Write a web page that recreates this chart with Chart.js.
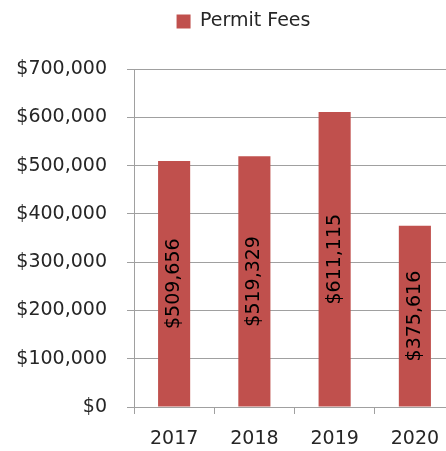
<!DOCTYPE html>
<html>
<head>
<meta charset="utf-8">
<script src="https://cdn.jsdelivr.net/npm/chart.js@4/dist/chart.umd.min.js"></script>
<style>
  html, body { margin: 0; padding: 0; background: #fff; overflow: hidden; }
  #wrap { width: 456px; height: 451px; }
</style>
</head>
<body>
<div id="wrap"><canvas id="feesChart"></canvas></div>
<script>
const years = ['2017', '2018', '2019', '2020'];
const permitFees = [509656, 519329, 611115, 375616];
const yTicks = [0, 100000, 200000, 300000, 400000, 500000, 600000, 700000];

const fmtMoney = v => '$' + v.toLocaleString('en-US');

// labels rotated inside the bars
const barLabels = {
  id: 'barLabels',
  afterDatasetsDraw(chart) {
    const ctx = chart.ctx;
    const meta = chart.getDatasetMeta(0);
    ctx.save();
    ctx.font = '19px "DejaVu Sans"';
    ctx.fillStyle = '#000';
    ctx.textAlign = 'center';
    ctx.textBaseline = 'middle';
    meta.data.forEach((bar, i) => {
      const cy = (bar.y + bar.base) / 2;
      ctx.save();
      ctx.translate(bar.x, cy);
      ctx.rotate(-Math.PI / 2);
      ctx.fillText(fmtMoney(permitFees[i]), 0, 0);
      ctx.restore();
    });
    ctx.restore();
  }
};

// extra space under the legend, and shift it a bit to the right
const legendGap = {
  id: 'legendGap',
  beforeUpdate(chart) {
    const lg = chart.legend;
    if (!lg || lg._gapDone) return;
    const fit = lg.fit;
    lg.fit = function () {
      fit.call(this);
      this.height += 28;
    };
    lg._gapDone = true;
  },
  afterLayout(chart) {
    if (chart.legend) chart.legend.left = 32;
  }
};

const ctx = document.getElementById('feesChart').getContext('2d');
new Chart(ctx, {
  type: 'bar',
  data: {
    labels: years,
    datasets: [{
      label: 'Permit Fees',
      data: permitFees,
      backgroundColor: '#C0504D',
      borderWidth: 0,
      barPercentage: 0.8,
      categoryPercentage: 0.5
    }]
  },
  options: {
    responsive: true,
    maintainAspectRatio: false,
    animation: false,
    layout: { padding: { top: 0, right: 1, bottom: 0, left: 0 } },
    plugins: {
      legend: {
        position: 'top',
        labels: {
          boxWidth: 14,
          boxHeight: 14,
          color: '#262626',
          font: { family: 'DejaVu Sans', size: 19 },
          padding: 12
        }
      },
      tooltip: { enabled: false }
    },
    scales: {
      x: {
        afterFit: scale => { scale.height = 44; },
        grid: {
          offset: true,
          drawOnChartArea: false,
          drawTicks: true,
          tickLength: 7,
          color: '#a0a0a0'
        },
        border: { color: '#a0a0a0' },
        ticks: {
          color: '#262626',
          font: { family: 'DejaVu Sans', size: 19 },
          padding: 14
        }
      },
      y: {
        min: 0,
        max: 700000,
        afterFit: scale => { scale.width = 134; },
        afterBuildTicks: scale => { scale.ticks = yTicks.map(v => ({ value: v })); },
        grid: {
          color: '#a0a0a0',
          tickLength: 7
        },
        border: { color: '#a0a0a0' },
        ticks: {
          color: '#262626',
          font: { family: 'DejaVu Sans', size: 19 },
          padding: 20,
          callback: v => fmtMoney(v)
        }
      }
    }
  },
  plugins: [barLabels, legendGap]
});
</script>
</body>
</html>
